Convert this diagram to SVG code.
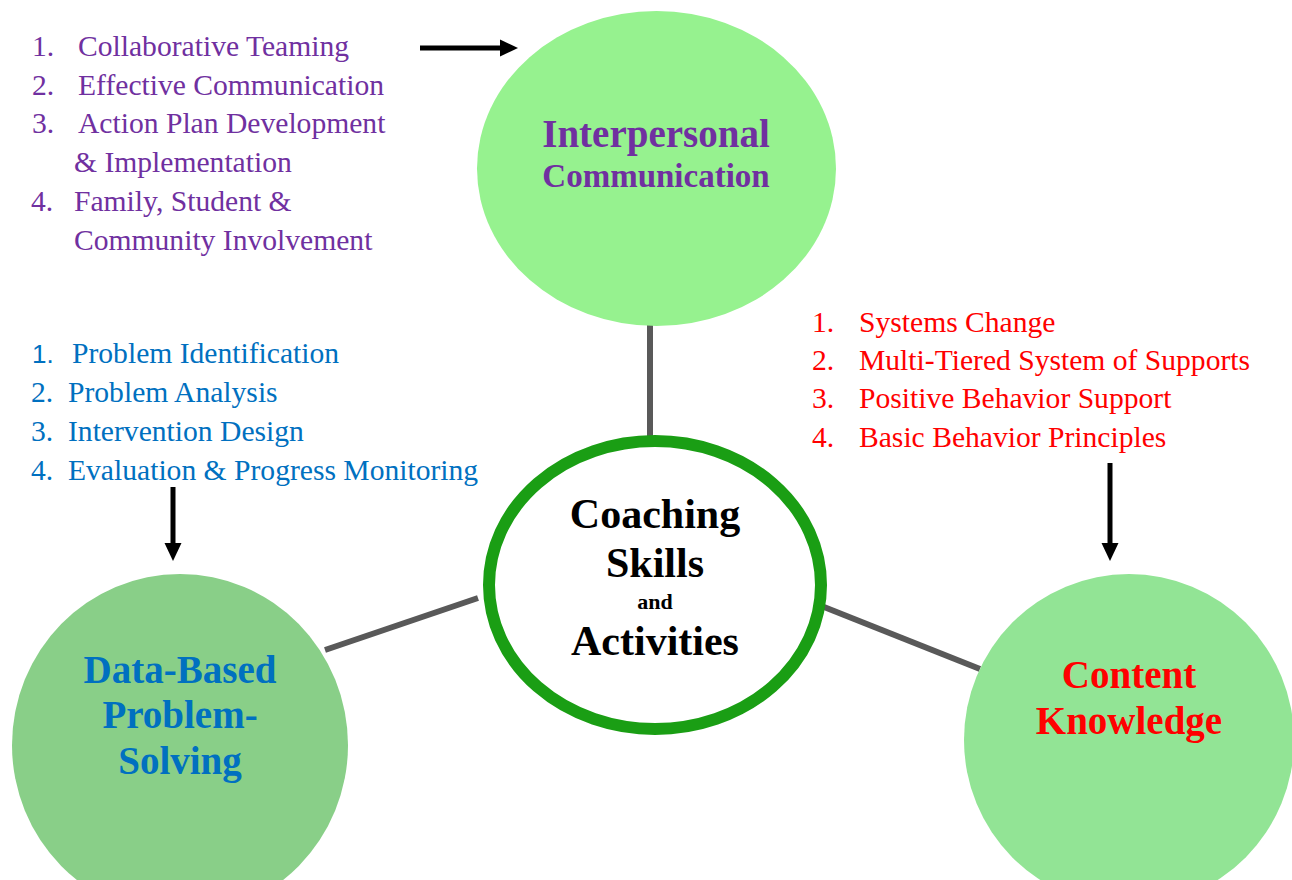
<svg xmlns="http://www.w3.org/2000/svg" width="1292" height="880" viewBox="0 0 1292 880">
<defs>
<style>
.list{font-family:"Liberation Serif","Times New Roman",serif;font-size:29.6px}
.purple{fill:#7030A0}.blue{fill:#0070C0}.red{fill:#FF0000}
.title{font-family:"Liberation Serif","Times New Roman",serif;font-weight:bold;text-anchor:middle}
.conn{stroke:#595959;stroke-width:6;fill:none}
.arrow{stroke:#000;stroke-width:5;fill:none}
.head{fill:#000}
.sans{font-family:"Liberation Sans",Arial,sans-serif}
</style>
</defs>
<rect width="1292" height="880" fill="#fff"/>
<g id="connectors">
<line class="conn" x1="650" y1="320" x2="650" y2="440"/>
<line class="conn" x1="325" y1="650" x2="478" y2="598"/>
<line class="conn" x1="824" y1="607" x2="980" y2="669"/>
<line class="arrow" x1="420" y1="48" x2="502" y2="48"/>
<polygon class="head" points="500,39.5 518,48 500,56.5"/>
<line class="arrow" x1="173" y1="487" x2="173" y2="545"/>
<polygon class="head" points="164.5,543 181.5,543 173,561"/>
<line class="arrow" x1="1110" y1="463" x2="1110" y2="545"/>
<polygon class="head" points="1101.5,543 1118.5,543 1110,561"/>
</g>
<g id="interpersonal">
<ellipse cx="656.5" cy="168.5" rx="179.5" ry="157.5" fill="#96F28F"/>
<text class="title purple" x="656" y="147" font-size="39">Interpersonal</text>
<text class="title purple" x="656" y="187" font-size="33">Communication</text>
</g>
<g id="coaching">
<ellipse cx="655" cy="585" rx="166" ry="144" fill="#fff" stroke="#1A9E14" stroke-width="12"/>
<text class="title" x="655" y="528" font-size="42" fill="#000">Coaching</text>
<text class="title" x="655" y="577" font-size="42" fill="#000">Skills</text>
<text class="title" x="655" y="609" font-size="22" fill="#000">and</text>
<text class="title" x="655" y="655" font-size="42" fill="#000">Activities</text>
</g>
<g id="data-based">
<ellipse cx="180" cy="745" rx="168" ry="171" fill="#89CF88"/>
<text class="title blue" x="180" y="683" font-size="39">Data-Based</text>
<text class="title blue" x="180" y="728" font-size="39">Problem-</text>
<text class="title blue" x="180" y="774" font-size="39">Solving</text>
</g>
<g id="content">
<ellipse cx="1129" cy="740" rx="165" ry="166" fill="#92E495"/>
<text class="title red" x="1129" y="688" font-size="39">Content</text>
<text class="title red" x="1129" y="734" font-size="39">Knowledge</text>
</g>
<g id="interpersonal-list" class="list purple">
<text x="32" y="56">1.</text><text x="78" y="56">Collaborative Teaming</text>
<text x="32" y="95">2.</text><text x="78" y="95">Effective Communication</text>
<text x="32" y="133">3.</text><text x="78" y="133">Action Plan Development</text>
<text x="74" y="172">&amp; Implementation</text>
<text x="31" y="211">4.</text><text x="74" y="211">Family, Student &amp;</text>
<text x="74" y="250">Community Involvement</text>
</g>
<g id="problem-list" class="list blue">
<text class="sans" x="32" y="363" font-size="26">1.</text><text x="72" y="363">Problem Identification</text>
<text x="31" y="402">2.</text><text x="68" y="402">Problem Analysis</text>
<text x="31" y="441">3.</text><text x="68" y="441">Intervention Design</text>
<text x="31" y="480">4.</text><text x="68" y="480">Evaluation &amp; Progress Monitoring</text>
</g>
<g id="content-list" class="list red">
<text x="812" y="332">1.</text><text x="859" y="332">Systems Change</text>
<text x="812" y="370">2.</text><text x="859" y="370">Multi-Tiered System of Supports</text>
<text x="812" y="408">3.</text><text x="859" y="408">Positive Behavior Support</text>
<text x="812" y="447">4.</text><text x="859" y="447">Basic Behavior Principles</text>
</g>
</svg>
